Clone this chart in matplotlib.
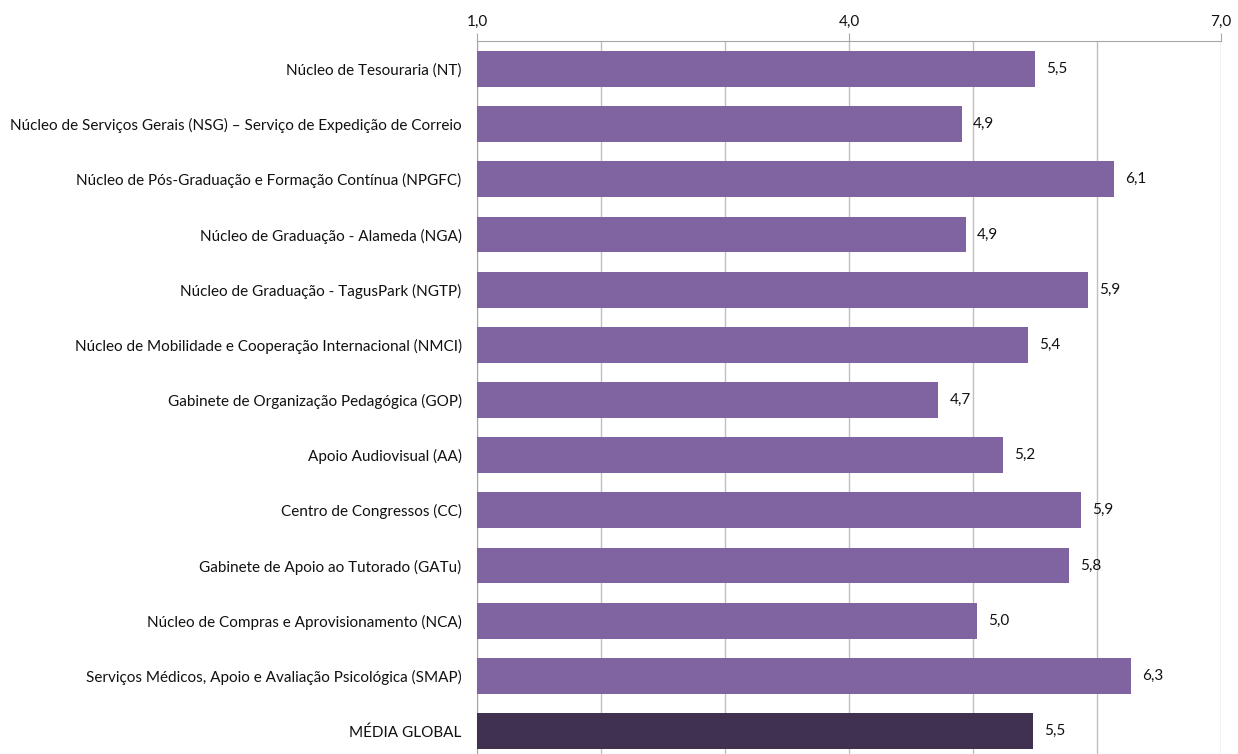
import numpy as np
import matplotlib.pyplot as plt
from matplotlib.ticker import MultipleLocator, FixedLocator, FuncFormatter

# satisfaction scores per service (scale 1 to 7)
services = [
    'Núcleo de Tesouraria (NT)',
    'Núcleo de Serviços Gerais (NSG) – Serviço de Expedição de Correio',
    'Núcleo de Pós-Graduação e Formação Contínua (NPGFC)',
    'Núcleo de Graduação - Alameda (NGA)',
    'Núcleo de Graduação - TagusPark (NGTP)',
    'Núcleo de Mobilidade e Cooperação Internacional (NMCI)',
    'Gabinete de Organização Pedagógica (GOP)',
    'Apoio Audiovisual (AA)',
    'Centro de Congressos (CC)',
    'Gabinete de Apoio ao Tutorado (GATu)',
    'Núcleo de Compras e Aprovisionamento (NCA)',
    'Serviços Médicos, Apoio e Avaliação Psicológica (SMAP)',
    'MÉDIA GLOBAL',
]
scores = [5.50, 4.91, 6.14, 4.94, 5.93, 5.44, 4.72, 5.24, 5.87, 5.77, 5.03, 6.27, 5.48]

plt.rcParams['font.family'] = ['Lato', 'DejaVu Sans']

fig = plt.figure(figsize=(12.38, 7.54), dpi=100)
ax = fig.add_axes([0.3853, -0.006, 0.601, 0.951])

y = np.arange(len(services))
colors = ['#8064A2'] * (len(services) - 1) + ['#403151']
ax.barh(y, np.array(scores) - 1.0, left=1.0, height=0.65, color=colors, zorder=3)

for yi, v in zip(y, scores):
    ax.text(v + 0.09, yi, f'{v:.1f}'.replace('.', ','), va='center', ha='left',
            fontsize=11, color='#111111')

ax.set_xlim(1, 7)
ax.set_ylim(len(services) - 0.5, -0.5)
ax.set_yticks(y)
ax.set_yticklabels(services, fontsize=11, color='#111111')

ax.xaxis.set_major_locator(FixedLocator([1, 4, 7]))
ax.xaxis.set_minor_locator(MultipleLocator(1))
ax.xaxis.set_major_formatter(FuncFormatter(lambda x, p: f'{x:.1f}'.replace('.', ',')))
ax.xaxis.tick_top()
ax.tick_params(axis='x', which='major', length=6, color='#a6a6a6', labelsize=11,
               labelcolor='#111111', pad=3)
ax.tick_params(axis='x', which='minor', length=0)
ax.tick_params(axis='y', length=0, pad=11)
ax.grid(axis='x', which='both', color='#c0c0c0', linewidth=1, zorder=0)

for side in ['right', 'bottom']:
    ax.spines[side].set_visible(False)
ax.spines['top'].set_color('#a6a6a6')
ax.spines['left'].set_color('#a6a6a6')

fig.savefig('out.png', dpi=100)
